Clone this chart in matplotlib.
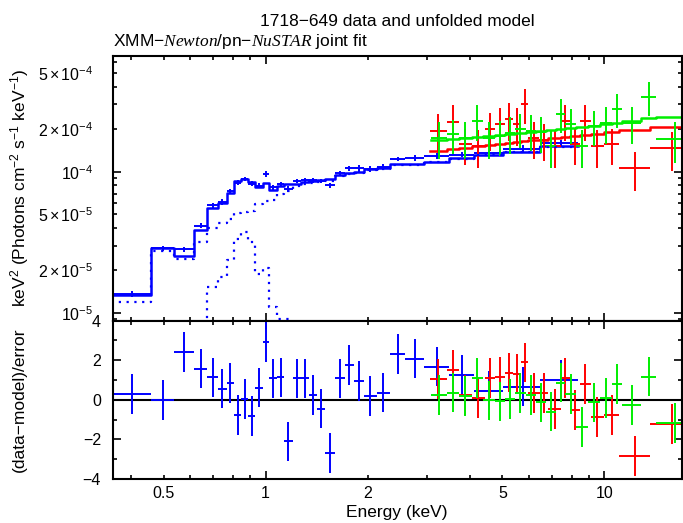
import numpy as np
import matplotlib
matplotlib.use('Agg')
import matplotlib.pyplot as plt
from matplotlib import rcParams

rcParams['font.family'] = ['Liberation Sans', 'DejaVu Sans']
rcParams['mathtext.fontset'] = 'custom'
rcParams['mathtext.rm'] = 'Liberation Sans'
rcParams['mathtext.it'] = 'Liberation Serif:italic'
rcParams['mathtext.default'] = 'rm'

# ---- XMM-Newton pn (blue), fluxes in 1e-5 units ----
pn_edges = [0.35, 0.459, 0.536, 0.614, 0.673, 0.725, 0.767, 0.808, 0.847,
            0.889, 0.934, 0.980, 1.025, 1.080, 1.135, 1.201, 1.274, 1.339,
            1.417, 1.499, 1.605, 1.710, 1.822, 1.954, 2.126, 2.326, 2.576,
            2.931, 3.474, 4.116, 5.01, 6.47, 8.38]
pn_flux = [1.36, 2.87, 2.83, 4.14, 5.79, 6.13, 7.28, 8.37, 8.85, 8.23,
           7.98, 9.65, 7.76, 8.22, 7.51, 8.57, 8.75, 8.67, 8.58, 8.00,
           9.84, 10.59, 10.6, 10.5, 10.79, 12.29, 12.49, 12.89, 13.2, 13.48,
           14.5, 16.0]
pn_err = [0.07, 0.12, 0.12, 0.17, 0.25, 0.28, 0.30, 0.30, 0.30, 0.30,
          0.30, 0.45, 0.28, 0.30, 0.35, 0.30, 0.30, 0.30, 0.30, 0.30,
          0.34, 0.45, 0.6, 0.5, 0.5, 0.43, 0.57, 0.65, 0.56, 0.6,
          0.9, 0.9]
pn_model = [1.34, 2.87, 2.54, 3.87, 5.51, 5.97, 7.03, 8.60, 8.84, 8.47,
            7.79, 8.33, 7.46, 7.88, 8.25, 8.25, 8.43, 8.60, 8.71, 8.81,
            9.47, 9.8, 10.0, 10.4, 10.6, 11.3, 11.3, 11.8, 12.5, 13.2,
            13.9, 15.1]
pn_cont = [1.20, 2.75, 2.42, 3.2, 4.0, 4.3, 4.6, 5.07, 5.2, 5.3,
           5.9, 6.25, 6.3, 7.0, 7.35, 7.95, 8.15, 8.35, 8.5, 8.6,
           9.3, 9.6, 9.85, 10.25, 10.45, 11.15, 11.15, 11.65, 12.35, 13.05,
           13.75, 14.95]
nan = np.nan
pn_gauss = [nan, nan, nan, 0.6, 1.54, 1.81, 2.37, 3.35, 3.73, 3.19,
            1.9, 2.08, 1.1, 0.9, 0.9, 0.6, nan, nan, nan, nan,
            nan, nan, nan, nan, nan, nan, nan, nan, nan, nan,
            nan, nan]
pn_resid = [0.29, 0.0, 2.42, 1.58, 1.13, 0.57, 0.84, -0.77, 0.03, -0.81,
            0.62, 2.93, 1.08, 1.13, -2.1, 1.08, 1.08, 0.24, -0.44, -2.69,
            1.08, 1.75, 0.96, 0.2, 0.37, 2.31, 2.09, 1.68, 1.25, 0.47,
            0.67, 1.01]

# ---- NuSTAR FPMA (red), fluxes in 1e-4 units ----
fpma_edges = [3.052, 3.420, 3.717, 4.053, 4.436, 4.748, 5.098, 5.375, 5.691,
              5.952, 6.422, 6.818, 7.431, 7.901, 8.455, 9.111, 9.952, 11.06,
              13.60, 18.0]
fpma_flux = [1.95, 2.26, 1.56, 1.52, 2.00, 2.17, 2.36, 2.17, 3.03, 1.74,
             1.69, 1.52, 2.30, 1.56, 2.30, 1.52, 1.56, 1.06, 1.46]
fpma_err = [0.60, 0.70, 0.45, 0.45, 0.60, 0.65, 0.70, 0.65, 0.85, 0.50,
            0.50, 0.45, 0.65, 0.45, 0.65, 0.45, 0.45, 0.33, 0.45]
fpma_model = [1.40, 1.44, 1.48, 1.51, 1.55, 1.57, 1.60, 1.62, 1.64, 1.67,
              1.69, 1.73, 1.76, 1.79, 1.82, 1.86, 1.90, 1.98, 2.06]
fpma_resid = [1.05, 1.52, 0.25, 0.08, 1.1, 1.18, 1.38, 1.3, 1.89, 0.34,
              0.34, -0.47, 1.1, -0.5, 0.81, -0.88, -0.76, -2.83, -1.21]

# ---- NuSTAR FPMB (green), fluxes in 1e-4 units ----
fpmb_edges = [3.073, 3.420, 3.717, 4.053, 4.375, 4.748, 5.081, 5.437, 5.86,
              6.27, 6.713, 7.183, 7.664, 8.229, 8.97, 9.69, 10.49, 11.28,
              12.78, 14.23, 18.0]
fpmb_flux = [1.74, 1.84, 1.74, 2.30, 1.74, 1.79, 1.89, 2.02, 1.95, 1.90,
             1.52, 2.57, 2.17, 1.52, 2.11, 2.23, 2.79, 2.21, 3.39, 1.71]
fpmb_err = [0.50, 0.50, 0.50, 0.65, 0.50, 0.50, 0.55, 0.55, 0.55, 0.55,
            0.45, 0.70, 0.60, 0.45, 0.60, 0.65, 0.75, 0.65, 0.90, 0.55]
fpmb_model = [1.68, 1.71, 1.74, 1.77, 1.79, 1.82, 1.85, 1.88, 1.92, 1.95,
              1.98, 2.01, 2.04, 2.08, 2.12, 2.17, 2.20, 2.30, 2.40, 2.43]
fpmb_resid = [0.25, 0.37, 0.2, 1.1, -0.03, -0.08, 0.03, 0.34, 0.25, -0.13,
              -0.59, 0.87, 0.3, -1.38, -0.13, 0.08, 0.81, -0.25, 1.18, -1.18]


def steps(ax, edges, vals, scale, **kw):
    v = np.asarray(vals, float) * scale
    ax.step(edges, np.append(v, v[-1]), where='post', **kw)


def crosses(ax, edges, y, yerr, color):
    e = np.asarray(edges)
    lo, hi = e[:-1], e[1:]
    x = 0.5 * (lo + hi)
    ax.errorbar(x, y, xerr=[x - lo, hi - x], yerr=yerr, fmt='none',
                ecolor=color, elinewidth=1.4, capsize=0)


fig = plt.figure(figsize=(6.83, 5.23), dpi=100)
ax1 = fig.add_axes([0.165, 0.3868, 0.8331, 0.5061])
ax2 = fig.add_axes([0.165, 0.0841, 0.8331, 0.3027])

groups = [(pn_edges, pn_flux, pn_err, pn_model, pn_resid, 1e-5, 'blue'),
          (fpma_edges, fpma_flux, fpma_err, fpma_model, fpma_resid, 1e-4, 'red'),
          (fpmb_edges, fpmb_flux, fpmb_err, fpmb_model, fpmb_resid, 1e-4, '#00ee00')]

for edges, flux, err, model, resid, sc, col in groups:
    crosses(ax1, edges, np.array(flux) * sc, np.array(err) * sc, col)
    steps(ax1, edges, model, sc, color=col, lw=1.8)
    crosses(ax2, edges, resid, np.ones(len(resid)), col)

steps(ax1, pn_edges, pn_cont, 1e-5, color='blue', lw=1.6, ls=(0, (1, 2.5)))
steps(ax1, pn_edges, pn_gauss, 1e-5, color='blue', lw=1.6, ls=(0, (1, 2.5)))

ax2.axhline(0, color='black', lw=1.5, zorder=0)

for ax in (ax1, ax2):
    ax.set_xscale('log')
    ax.set_xlim(0.354, 16.9)
    ax.set_xticks([1, 10])
    minor_x = [0.4, 0.5, 0.6, 0.7, 0.8, 0.9, 2, 3, 4, 5, 6, 7, 8, 9]
    ax.set_xticks(minor_x, minor=True)
    ax.tick_params(which='both', direction='in', top=True, right=True,
                   width=1.2, labelsize=11.5)
    ax.tick_params(which='major', length=6)
    ax.tick_params(which='minor', length=3)
    for s in ax.spines.values():
        s.set_linewidth(1.5)

ax1.set_xticklabels(['', ''])
ax1.set_xticklabels([''] * 14, minor=True)
ax2.set_xticklabels(['1', '10'])
ax2.set_xticklabels(['', '0.5', '', '', '', '', '2', '', '', '5', '', '', '', ''],
                    minor=True)
ax2.tick_params(axis='x', which='both', pad=5)

ax1.set_yscale('log')
ax1.set_ylim(8.82e-6, 6.59e-4)
ax1.set_yticks([1e-5, 1e-4], [r'$10^{-5}$', r'$10^{-4}$'])
minor_y = [9e-6, 2e-5, 3e-5, 4e-5, 5e-5, 6e-5, 7e-5, 8e-5, 9e-5,
           2e-4, 3e-4, 4e-4, 5e-4, 6e-4]
minor_lab = ['', r'$2\times10^{-5}$', '', '', r'$5\times10^{-5}$', '', '', '', '',
             r'$2\times10^{-4}$', '', '', r'$5\times10^{-4}$', '']
ax1.set_yticks(minor_y, minor_lab, minor=True)
ax1.tick_params(axis='y', which='both', pad=14)

ax2.set_ylim(-4, 4)
ax2.set_yticks([-4, -2, 0, 2, 4])
ax2.set_yticks([-3, -1, 1, 3], minor=True)
ax2.tick_params(axis='y', which='both', pad=8.5)

fig.text(0.581, 0.958, '1718\u2212649 data and unfolded model', ha='center',
         va='center', fontsize=12.5)
fig.text(0.165, 0.92, r'XMM$-\mathit{Newton}$/pn$-\mathit{NuSTAR}$ joint fit',
         ha='left', va='center', fontsize=12.5)
fig.text(0.581, 0.021, 'Energy (keV)', ha='center', va='center', fontsize=12.5)
fig.text(0.029, 0.64, r'keV$^2$ (Photons cm$^{-2}$ s$^{-1}$ keV$^{-1}$)',
         rotation=90, ha='center', va='center', fontsize=12.5)
fig.text(0.029, 0.235, '(data\u2212model)/error', rotation=90, ha='center',
         va='center', fontsize=12.5)

fig.savefig('out.png', dpi=100)
